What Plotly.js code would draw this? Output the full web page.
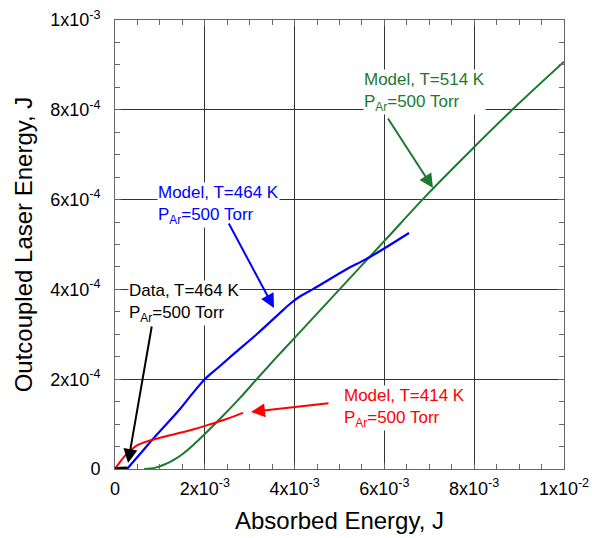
<!DOCTYPE html>
<html>
<head>
<meta charset="utf-8">
<script src="https://cdn.plot.ly/plotly-3.0.1.min.js"></script>
<style>html,body{margin:0;padding:0;background:#fff}</style>
</head>
<body>
<div id="chart" style="width:602px;height:538px"></div>
<script>
// Absorbed energy (J) and outcoupled laser energy (J)
const dataX = [0, 0.0001, 0.0002, 0.00027];
const dataY = [0, 0, 0.0000005, 0.000001];

const redX = [0, 0.0001, 0.0002, 0.00035, 0.0005, 0.0007, 0.00095, 0.0013, 0.0017, 0.0021, 0.0025, 0.00285];
const redY = [0, 0.000014, 0.000027, 0.000042, 0.000053, 0.000061, 0.000068, 0.000077, 0.000087, 0.000099, 0.000112, 0.000125];

const blueX = [0.000267, 0.000557, 0.000824, 0.001448, 0.0017, 0.002, 0.0023, 0.0027, 0.003163, 0.0037, 0.0039, 0.0041, 0.0044, 0.005167, 0.00539, 0.005679, 0.006013, 0.006548];
const blueY = [0, 0.0000334, 0.0000646, 0.0001336, 0.000165, 0.0002, 0.000226, 0.000261, 0.0003007, 0.00035, 0.000368, 0.000383, 0.0004, 0.0004454, 0.000457, 0.0004722, 0.0004922, 0.0005256];

const greenX = [0.00065, 0.0009, 0.0011, 0.0013, 0.0015, 0.00175, 0.002, 0.0024, 0.0028, 0.0032, 0.0036, 0.004, 0.005, 0.006, 0.007, 0.008, 0.0089, 0.01];
const greenY = [0, 0.000003, 0.00001, 0.00002, 0.000033, 0.000054, 0.000078, 0.000118, 0.00016, 0.000205, 0.000249, 0.000292, 0.0004, 0.000508, 0.000616, 0.000717, 0.000805, 0.000907];

const xTickVals = [0, 0.002, 0.004, 0.006, 0.008, 0.01];
const xTickText = ['0', '2x10<sup>-3</sup>', '4x10<sup>-3</sup>', '6x10<sup>-3</sup>', '8x10<sup>-3</sup>', '1x10<sup>-2</sup>'];
const yTickVals = [0, 0.0002, 0.0004, 0.0006, 0.0008, 0.001];
const yTickText = ['0', '2x10<sup>-4</sup>', '4x10<sup>-4</sup>', '6x10<sup>-4</sup>', '8x10<sup>-4</sup>', '1x10<sup>-3</sup>'];

const labels = ['Model, T=514 K<br>P<sub>Ar</sub>=500 Torr', 'Model, T=464 K<br>P<sub>Ar</sub>=500 Torr', 'Data, T=464 K<br>P<sub>Ar</sub>=500 Torr', 'Model, T=414 K<br>P<sub>Ar</sub>=500 Torr'];

const GREEN = '#1b7a2e', BLUE = '#0000ff', RED = '#ff0000', BLACK = '#000000';
const FONT = 'Arial, "Liberation Sans", sans-serif';

const traces = [
  {x: greenX, y: greenY, mode: 'lines', line: {color: GREEN, width: 2, shape: 'spline', smoothing: 1}},
  {x: blueX, y: blueY, mode: 'lines', line: {color: BLUE, width: 2.2, shape: 'spline', smoothing: 1}},
  {x: redX, y: redY, mode: 'lines', line: {color: RED, width: 2, shape: 'spline', smoothing: 1}},
  {x: dataX, y: dataY, mode: 'lines', line: {color: BLACK, width: 4}}
];

function textAnn(x, y, text, color) {
  return {x: x, y: y, xref: 'x', yref: 'y', text: text, showarrow: false,
    xanchor: 'left', yanchor: 'middle', align: 'left', bgcolor: 'white', borderpad: 0,
    font: {family: FONT, size: 17, color: color}};
}
function arrowAnn(hx, hy, tx, ty, color) {
  return {x: hx, y: hy, ax: tx, ay: ty, xref: 'x', yref: 'y', axref: 'x', ayref: 'y',
    text: '', showarrow: true, arrowhead: 2, arrowsize: 1.4, arrowwidth: 2, arrowcolor: color, standoff: 0, startstandoff: 0};
}

const annotations = [
  textAnn(0.005523, 0.000840, labels[0], GREEN),
  textAnn(0.000935, 0.000588, labels[1], BLUE),
  textAnn(0.00029, 0.000370, labels[2], BLACK),
  textAnn(0.005078, 0.000136, labels[3], RED),
  arrowAnn(0.007082, 0.0006258, 0.006058, 0.000784, GREEN),
  arrowAnn(0.003541, 0.0003586, 0.002517, 0.000550, BLUE),
  arrowAnn(0.00029, 0.0000134, 0.000824, 0.0003207, BLACK),
  arrowAnn(0.003029, 0.000127, 0.004788, 0.000147, RED)
];

const axisCommon = {
  showgrid: true, gridcolor: '#333', gridwidth: 1,
  showline: true, linecolor: '#666', linewidth: 1, mirror: 'ticks',
  ticks: 'inside', ticklen: 6, tickcolor: '#666',
  zeroline: false, tickmode: 'array',
  tickfont: {family: FONT, size: 18, color: '#000'},
  minor: {ticks: 'inside', ticklen: 5, tickcolor: '#666', dtick: 0.0005, showgrid: false}
};

const layout = {
  width: 602, height: 538,
  margin: {l: 115, r: 38, t: 20, b: 69},
  paper_bgcolor: 'white', plot_bgcolor: 'white',
  showlegend: false,
  font: {family: FONT, color: '#000'},
  xaxis: Object.assign({}, axisCommon, {
    range: [0, 0.01], tickvals: xTickVals, ticktext: xTickText,
    ticklabelstandoff: 3,
    minor: Object.assign({}, axisCommon.minor, {dtick: 0.0005}),
    title: {text: 'Absorbed Energy, J', font: {family: FONT, size: 24, color: '#000'}, standoff: 14}
  }),
  yaxis: Object.assign({}, axisCommon, {
    range: [0, 0.001], tickvals: yTickVals, ticktext: yTickText,
    ticklabelstandoff: 10,
    minor: Object.assign({}, axisCommon.minor, {dtick: 0.00005}),
    title: {text: 'Outcoupled Laser Energy, J', font: {family: FONT, size: 24, color: '#000'}, standoff: 10}
  }),
  annotations: annotations
};

Plotly.newPlot('chart', traces, layout, {displayModeBar: false, staticPlot: true});
</script>
</body>
</html>
